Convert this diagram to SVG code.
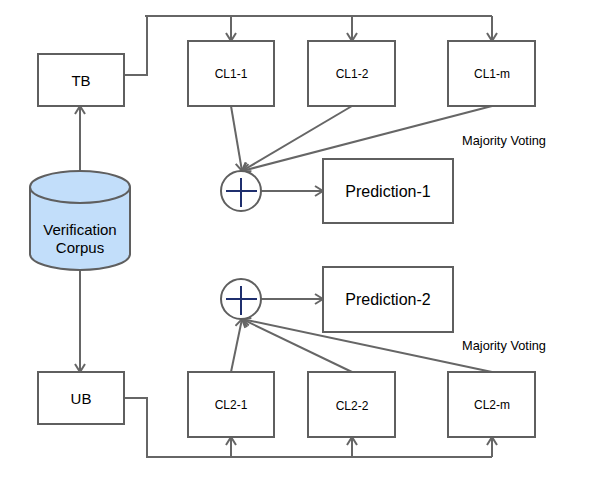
<svg xmlns="http://www.w3.org/2000/svg" width="604" height="478" viewBox="0 0 604 478">
<style>
.box{fill:#fff;stroke:#5f5f5f;stroke-width:2}
.ln{fill:none;stroke:#666;stroke-width:2}
.t{font-family:"Liberation Sans",Arial,sans-serif;fill:#000;text-anchor:middle}
.plus{stroke:#1f2f6e;stroke-width:2}
</style>
<defs>
<marker id="a" viewBox="0 0 12 12" refX="11" refY="6" markerWidth="12" markerHeight="12" markerUnits="userSpaceOnUse" orient="auto">
<polyline points="3,1 11,6 3,11" fill="none" stroke="#666" stroke-width="2"/>
</marker>
</defs>
<rect width="604" height="478" fill="#fff"/>
<g id="connectors">
<polyline class="ln" points="124,75 147,75 147,16"/>
<line class="ln" x1="145" y1="16" x2="492" y2="16"/>
<line class="ln" x1="231" y1="16" x2="231" y2="41" marker-end="url(#a)"/>
<line class="ln" x1="352" y1="16" x2="352" y2="41" marker-end="url(#a)"/>
<line class="ln" x1="492" y1="16" x2="492" y2="41" marker-end="url(#a)"/>
<line class="ln" x1="80" y1="171" x2="80" y2="106" marker-end="url(#a)"/>
<line class="ln" x1="80" y1="271" x2="80" y2="372" marker-end="url(#a)"/>
<line class="ln" x1="231" y1="106" x2="242" y2="171" marker-end="url(#a)"/>
<line class="ln" x1="352" y1="106" x2="242" y2="171" marker-end="url(#a)"/>
<line class="ln" x1="492" y1="106" x2="242" y2="171" marker-end="url(#a)"/>
<line class="ln" x1="261" y1="191" x2="323" y2="191" marker-end="url(#a)"/>
<polyline class="ln" points="124,398 147,398 147,457 492,457"/>
<line class="ln" x1="231" y1="457" x2="231" y2="437" marker-end="url(#a)"/>
<line class="ln" x1="352" y1="457" x2="352" y2="437" marker-end="url(#a)"/>
<line class="ln" x1="492" y1="457" x2="492" y2="437" marker-end="url(#a)"/>
<line class="ln" x1="231" y1="372" x2="242" y2="319" marker-end="url(#a)"/>
<line class="ln" x1="352" y1="372" x2="242" y2="319" marker-end="url(#a)"/>
<line class="ln" x1="492" y1="372" x2="242" y2="319" marker-end="url(#a)"/>
<line class="ln" x1="261" y1="299" x2="323" y2="299" marker-end="url(#a)"/>
</g>
<g id="corpus">
<path d="M30,187 L30,254 A50,16 0 0 0 130,254 L130,187" fill="#c2defa" stroke="#5f5f5f" stroke-width="2"/>
<ellipse cx="80" cy="187" rx="50" ry="16" fill="#c2defa" stroke="#5f5f5f" stroke-width="2"/>
<text class="t" x="80" y="235" font-size="15">Verification</text>
<text class="t" x="80" y="253" font-size="15">Corpus</text>
</g>
<g id="tb"><rect class="box" x="38" y="54" width="86" height="52"/><text class="t" x="81" y="86" font-size="15">TB</text></g>
<g id="ub"><rect class="box" x="38" y="372" width="86" height="52"/><text class="t" x="81" y="404" font-size="15">UB</text></g>
<g id="cl1-1"><rect class="box" x="188" y="41" width="86" height="65"/><text class="t" x="231" y="78" font-size="12">CL1-1</text></g>
<g id="cl1-2"><rect class="box" x="308" y="41" width="87" height="65"/><text class="t" x="352" y="78" font-size="12">CL1-2</text></g>
<g id="cl1-m"><rect class="box" x="448" y="41" width="87" height="65"/><text class="t" x="492" y="78" font-size="12">CL1-m</text></g>
<g id="cl2-1"><rect class="box" x="188" y="372" width="86" height="65"/><text class="t" x="231" y="409" font-size="12">CL2-1</text></g>
<g id="cl2-2"><rect class="box" x="308" y="372" width="87" height="65"/><text class="t" x="352" y="410" font-size="12">CL2-2</text></g>
<g id="cl2-m"><rect class="box" x="448" y="372" width="87" height="65"/><text class="t" x="492" y="409" font-size="12">CL2-m</text></g>
<g id="sum1"><circle class="box" cx="241" cy="191" r="20"/><line class="plus" x1="226" y1="191" x2="257" y2="191"/><line class="plus" x1="241" y1="178" x2="241" y2="207"/></g>
<g id="sum2"><circle class="box" cx="241" cy="299" r="20"/><line class="plus" x1="226" y1="299" x2="257" y2="299"/><line class="plus" x1="241" y1="286" x2="241" y2="315"/></g>
<g id="pred1"><rect class="box" x="323" y="159" width="130" height="64"/><text class="t" x="388" y="197" font-size="16">Prediction-1</text></g>
<g id="pred2"><rect class="box" x="323" y="267" width="130" height="65"/><text class="t" x="388" y="305" font-size="16">Prediction-2</text></g>
<text class="t" x="504" y="145" font-size="12.8">Majority Voting</text>
<text class="t" x="504" y="350" font-size="12.8">Majority Voting</text>
</svg>
